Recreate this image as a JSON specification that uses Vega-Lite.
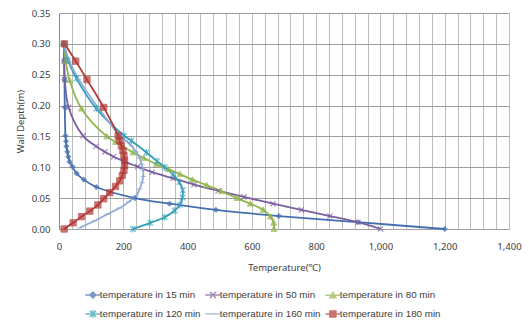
{
  "$schema": "https://vega.github.io/schema/vega-lite/v6.json",
  "width": 450,
  "height": 216,
  "autosize": "none",
  "padding": {"left": 59, "top": 13, "right": 20, "bottom": 96},
  "background": "white",
  "config": {
    "view": {"stroke": null},
    "font": "Noto Sans",
    "axis": {"labelFont": "Noto Sans", "titleFont": "Noto Sans", "labelColor": "#404040", "titleColor": "#404040", "labelFontSize": 9.5, "titleFontSize": 9.5, "titleFontWeight": "normal"},
    "legend": {"labelFont": "Liberation Sans", "labelFontSize": 9.8, "labelColor": "#404040"}
  },
  "data": {
    "values": [
      {"series": "temperature in 15 min", "T": 15, "d": 0.30},
      {"series": "temperature in 15 min", "T": 16, "d": 0.272},
      {"series": "temperature in 15 min", "T": 17, "d": 0.242},
      {"series": "temperature in 15 min", "T": 18, "d": 0.197},
      {"series": "temperature in 15 min", "T": 20, "d": 0.151},
      {"series": "temperature in 15 min", "T": 22, "d": 0.142},
      {"series": "temperature in 15 min", "T": 23, "d": 0.134},
      {"series": "temperature in 15 min", "T": 26, "d": 0.125},
      {"series": "temperature in 15 min", "T": 29, "d": 0.117},
      {"series": "temperature in 15 min", "T": 33, "d": 0.109},
      {"series": "temperature in 15 min", "T": 42, "d": 0.101},
      {"series": "temperature in 15 min", "T": 55, "d": 0.090},
      {"series": "temperature in 15 min", "T": 77, "d": 0.080},
      {"series": "temperature in 15 min", "T": 116, "d": 0.068},
      {"series": "temperature in 15 min", "T": 236, "d": 0.050},
      {"series": "temperature in 15 min", "T": 344, "d": 0.041},
      {"series": "temperature in 15 min", "T": 488, "d": 0.031},
      {"series": "temperature in 15 min", "T": 684, "d": 0.021},
      {"series": "temperature in 15 min", "T": 930, "d": 0.011},
      {"series": "temperature in 15 min", "T": 1200, "d": 0.0},

      {"series": "temperature in 50 min", "T": 15, "d": 0.30},
      {"series": "temperature in 50 min", "T": 16, "d": 0.272},
      {"series": "temperature in 50 min", "T": 18, "d": 0.242},
      {"series": "temperature in 50 min", "T": 30, "d": 0.197},
      {"series": "temperature in 50 min", "T": 75, "d": 0.151},
      {"series": "temperature in 50 min", "T": 115, "d": 0.134},
      {"series": "temperature in 50 min", "T": 143, "d": 0.125},
      {"series": "temperature in 50 min", "T": 170, "d": 0.117},
      {"series": "temperature in 50 min", "T": 205, "d": 0.109},
      {"series": "temperature in 50 min", "T": 245, "d": 0.101},
      {"series": "temperature in 50 min", "T": 290, "d": 0.092},
      {"series": "temperature in 50 min", "T": 355, "d": 0.082},
      {"series": "temperature in 50 min", "T": 420, "d": 0.072},
      {"series": "temperature in 50 min", "T": 495, "d": 0.062},
      {"series": "temperature in 50 min", "T": 575, "d": 0.052},
      {"series": "temperature in 50 min", "T": 666, "d": 0.041},
      {"series": "temperature in 50 min", "T": 754, "d": 0.031},
      {"series": "temperature in 50 min", "T": 843, "d": 0.021},
      {"series": "temperature in 50 min", "T": 930, "d": 0.011},
      {"series": "temperature in 50 min", "T": 1000, "d": 0.0},

      {"series": "temperature in 80 min", "T": 15, "d": 0.30},
      {"series": "temperature in 80 min", "T": 21, "d": 0.272},
      {"series": "temperature in 80 min", "T": 33, "d": 0.241},
      {"series": "temperature in 80 min", "T": 70, "d": 0.195},
      {"series": "temperature in 80 min", "T": 149, "d": 0.150},
      {"series": "temperature in 80 min", "T": 176, "d": 0.141},
      {"series": "temperature in 80 min", "T": 230, "d": 0.124},
      {"series": "temperature in 80 min", "T": 264, "d": 0.115},
      {"series": "temperature in 80 min", "T": 303, "d": 0.105},
      {"series": "temperature in 80 min", "T": 340, "d": 0.097},
      {"series": "temperature in 80 min", "T": 376, "d": 0.089},
      {"series": "temperature in 80 min", "T": 415, "d": 0.080},
      {"series": "temperature in 80 min", "T": 459, "d": 0.071},
      {"series": "temperature in 80 min", "T": 505, "d": 0.061},
      {"series": "temperature in 80 min", "T": 554, "d": 0.050},
      {"series": "temperature in 80 min", "T": 595, "d": 0.041},
      {"series": "temperature in 80 min", "T": 635, "d": 0.031},
      {"series": "temperature in 80 min", "T": 658, "d": 0.020},
      {"series": "temperature in 80 min", "T": 668, "d": 0.010},
      {"series": "temperature in 80 min", "T": 669, "d": 0.0},

      {"series": "temperature in 120 min", "T": 15, "d": 0.30},
      {"series": "temperature in 120 min", "T": 28, "d": 0.273},
      {"series": "temperature in 120 min", "T": 54, "d": 0.244},
      {"series": "temperature in 120 min", "T": 116, "d": 0.195},
      {"series": "temperature in 120 min", "T": 203, "d": 0.151},
      {"series": "temperature in 120 min", "T": 225, "d": 0.143},
      {"series": "temperature in 120 min", "T": 272, "d": 0.124},
      {"series": "temperature in 120 min", "T": 305, "d": 0.110},
      {"series": "temperature in 120 min", "T": 329, "d": 0.100},
      {"series": "temperature in 120 min", "T": 355, "d": 0.088},
      {"series": "temperature in 120 min", "T": 374, "d": 0.076},
      {"series": "temperature in 120 min", "T": 385, "d": 0.063},
      {"series": "temperature in 120 min", "T": 384, "d": 0.051},
      {"series": "temperature in 120 min", "T": 376, "d": 0.039},
      {"series": "temperature in 120 min", "T": 360, "d": 0.030},
      {"series": "temperature in 120 min", "T": 329, "d": 0.019},
      {"series": "temperature in 120 min", "T": 284, "d": 0.010},
      {"series": "temperature in 120 min", "T": 230, "d": 0.0},

      {"series": "temperature in 160 min", "T": 15, "d": 0.30},
      {"series": "temperature in 160 min", "T": 32, "d": 0.272},
      {"series": "temperature in 160 min", "T": 62, "d": 0.242},
      {"series": "temperature in 160 min", "T": 124, "d": 0.195},
      {"series": "temperature in 160 min", "T": 190, "d": 0.151},
      {"series": "temperature in 160 min", "T": 208, "d": 0.143},
      {"series": "temperature in 160 min", "T": 225, "d": 0.135},
      {"series": "temperature in 160 min", "T": 240, "d": 0.125},
      {"series": "temperature in 160 min", "T": 251, "d": 0.115},
      {"series": "temperature in 160 min", "T": 257, "d": 0.105},
      {"series": "temperature in 160 min", "T": 262, "d": 0.095},
      {"series": "temperature in 160 min", "T": 262, "d": 0.085},
      {"series": "temperature in 160 min", "T": 258, "d": 0.075},
      {"series": "temperature in 160 min", "T": 251, "d": 0.065},
      {"series": "temperature in 160 min", "T": 240, "d": 0.054},
      {"series": "temperature in 160 min", "T": 217, "d": 0.044},
      {"series": "temperature in 160 min", "T": 189, "d": 0.034},
      {"series": "temperature in 160 min", "T": 150, "d": 0.024},
      {"series": "temperature in 160 min", "T": 110, "d": 0.013},
      {"series": "temperature in 160 min", "T": 64, "d": 0.002},

      {"series": "temperature in 180 min", "T": 17, "d": 0.30},
      {"series": "temperature in 180 min", "T": 52, "d": 0.272},
      {"series": "temperature in 180 min", "T": 87, "d": 0.242},
      {"series": "temperature in 180 min", "T": 139, "d": 0.197},
      {"series": "temperature in 180 min", "T": 184, "d": 0.151},
      {"series": "temperature in 180 min", "T": 189, "d": 0.143},
      {"series": "temperature in 180 min", "T": 194, "d": 0.135},
      {"series": "temperature in 180 min", "T": 199, "d": 0.127},
      {"series": "temperature in 180 min", "T": 202, "d": 0.119},
      {"series": "temperature in 180 min", "T": 204, "d": 0.111},
      {"series": "temperature in 180 min", "T": 204, "d": 0.103},
      {"series": "temperature in 180 min", "T": 202, "d": 0.095},
      {"series": "temperature in 180 min", "T": 197, "d": 0.087},
      {"series": "temperature in 180 min", "T": 189, "d": 0.078},
      {"series": "temperature in 180 min", "T": 176, "d": 0.069},
      {"series": "temperature in 180 min", "T": 158, "d": 0.059},
      {"series": "temperature in 180 min", "T": 139, "d": 0.049},
      {"series": "temperature in 180 min", "T": 121, "d": 0.039},
      {"series": "temperature in 180 min", "T": 96, "d": 0.029},
      {"series": "temperature in 180 min", "T": 70, "d": 0.020},
      {"series": "temperature in 180 min", "T": 44, "d": 0.010},
      {"series": "temperature in 180 min", "T": 16, "d": 0.0}
    ]
  },
  "encoding": {
    "x": {
      "field": "T", "type": "quantitative",
      "scale": {"domain": [0, 1400], "nice": false, "zero": false},
      "axis": {
        "title": "Temperature(℃)",
        "values": [0,40,80,120,160,200,240,280,320,360,400,440,480,520,560,600,640,680,720,760,800,840,880,920,960,1000,1040,1080,1120,1160,1200,1240,1280,1320,1360,1400],
        "labelExpr": "datum.value % 200 === 0 ? format(datum.value, ',') : ''",
        "ticks": false,
        "domain": false,
        "grid": true,
        "gridColor": "#BDBDBD",
        "gridWidth": 1,
        "labelPadding": 12,
        "titlePadding": 12,
        "labelFlush": false
      }
    },
    "y": {
      "field": "d", "type": "quantitative",
      "scale": {"domain": [0, 0.35], "nice": false, "zero": false},
      "axis": {
        "title": "Wall Depth(m)",
        "values": [0, 0.05, 0.1, 0.15, 0.2, 0.25, 0.3, 0.35],
        "format": ".2f",
        "ticks": false,
        "domain": true,
        "domainColor": "#8C8C8C",
        "grid": true,
        "gridColor": "#9E9E9E",
        "labelPadding": 9,
        "titlePadding": 6,
        "labelFlush": false
      }
    },
    "order": {"field": "d", "type": "quantitative"}
  },
  "layer": [
    {
      "mark": {"type": "line", "interpolate": "catmull-rom", "strokeWidth": 1.8},
      "encoding": {
        "color": {
          "field": "series", "type": "nominal",
          "scale": {
            "domain": ["temperature in 15 min", "temperature in 50 min", "temperature in 80 min", "temperature in 120 min", "temperature in 160 min", "temperature in 180 min"],
            "range": ["#4470AE", "#7A5E9E", "#92B64C", "#35A0B6", "#8EAAD6", "#B23A37"]
          },
          "legend": {
            "title": null,
            "orient": "none",
            "legendX": 24,
            "legendY": 277,
            "direction": "horizontal",
            "columns": 3,
            "columnPadding": 1,
            "rowPadding": 6,
            "padding": 0,
            "symbolSize": 36,
            "symbolOffset": 5,
            "labelOffset": 2,
            "labelLimit": 200,
            "symbolOpacity": 1,
            "symbolStrokeWidth": 1.5
          }
        }
      }
    },
    {
      "transform": [{"filter": "datum.series === 'temperature in 15 min'"}],
      "mark": {"type": "point", "filled": true, "strokeWidth": 1, "shape": "M0,-1L1,0L0,1L-1,0Z", "size": 28},
      "encoding": {"color": {"field": "series", "type": "nominal"}, "stroke": {"field": "series", "type": "nominal", "legend": null}}
    },
    {
      "transform": [{"filter": "datum.series === 'temperature in 50 min'"}],
      "mark": {"type": "point", "filled": true, "strokeWidth": 1.2, "shape": "M-1,-1L1,1M-1,1L1,-1", "size": 28},
      "encoding": {"color": {"field": "series", "type": "nominal"}, "stroke": {"field": "series", "type": "nominal", "legend": null}}
    },
    {
      "transform": [{"filter": "datum.series === 'temperature in 80 min'"}],
      "mark": {"type": "point", "filled": true, "strokeWidth": 1, "shape": "M0,-1L1,0.8L-1,0.8Z", "size": 36},
      "encoding": {"color": {"field": "series", "type": "nominal"}, "stroke": {"field": "series", "type": "nominal", "legend": null}}
    },
    {
      "transform": [{"filter": "datum.series === 'temperature in 120 min'"}],
      "mark": {"type": "point", "filled": true, "strokeWidth": 1.2, "shape": "M-1,-1L1,1M-1,1L1,-1M0,-1.3L0,1.3", "size": 30},
      "encoding": {"color": {"field": "series", "type": "nominal"}, "stroke": {"field": "series", "type": "nominal", "legend": null}}
    },
    {
      "transform": [{"filter": "datum.series === 'temperature in 160 min'"}],
      "mark": {"type": "point", "filled": true, "strokeWidth": 1.2, "shape": "M-1,0L1,0", "size": 30},
      "encoding": {"color": {"field": "series", "type": "nominal"}, "stroke": {"field": "series", "type": "nominal", "legend": null}}
    },
    {
      "transform": [{"filter": "datum.series === 'temperature in 180 min'"}],
      "mark": {"type": "point", "filled": true, "strokeWidth": 1, "shape": "M-1,-1L1,-1L1,1L-1,1Z", "size": 40},
      "encoding": {"color": {"field": "series", "type": "nominal"}, "stroke": {"field": "series", "type": "nominal", "legend": null}}
    },
    {
      "mark": {"type": "point", "filled": true, "opacity": 0, "strokeWidth": 1.5},
      "encoding": {
        "color": {"field": "series", "type": "nominal"},
        "stroke": {
          "field": "series", "type": "nominal",
          "scale": {
            "domain": ["temperature in 15 min", "temperature in 50 min", "temperature in 80 min", "temperature in 120 min", "temperature in 160 min", "temperature in 180 min"],
            "range": ["#4470AE", "#7A5E9E", "#92B64C", "#35A0B6", "#8EAAD6", "#B23A37"]
          },
          "legend": null
        },
        "shape": {
          "field": "series", "type": "nominal",
          "scale": {
            "domain": ["temperature in 15 min", "temperature in 50 min", "temperature in 80 min", "temperature in 120 min", "temperature in 160 min", "temperature in 180 min"],
            "range": ["M-2.5,0L2.5,0M0,-1L1,0L0,1L-1,0Z", "M-2.5,0L2.5,0M-1,-1L1,1M-1,1L1,-1", "M-2.5,0L2.5,0M0,-1L1,0.8L-1,0.8Z", "M-2.5,0L2.5,0M-1,-1L1,1M-1,1L1,-1M0,-1.3L0,1.3", "M-2.5,0L2.5,0", "M-2.5,0L2.5,0M-1,-1L1,-1L1,1L-1,1Z"]
          },
          "legend": null
        }
      }
    }
  ]
}
